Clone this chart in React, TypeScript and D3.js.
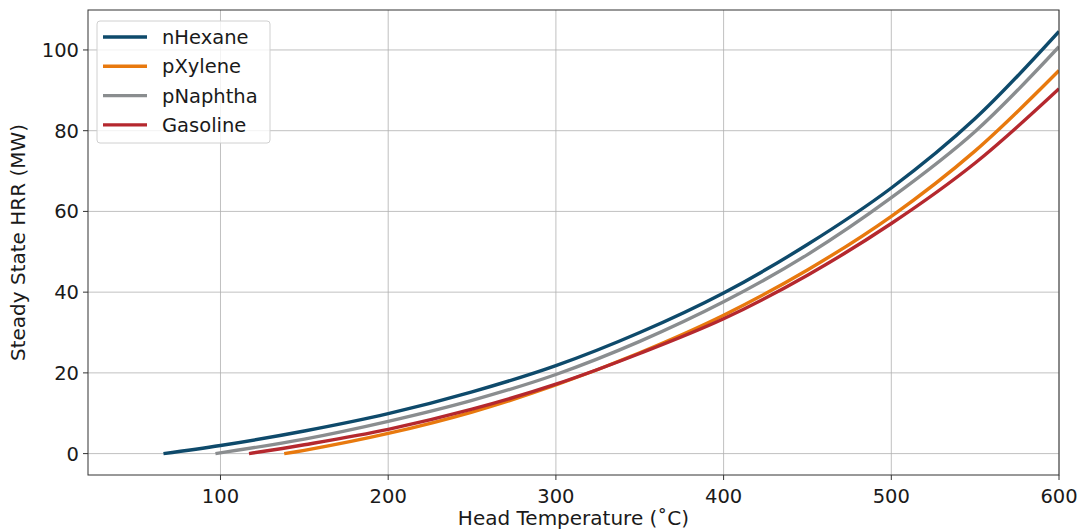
import React from "react";
import * as d3 from "d3";

const width = 1081;
const height = 531;
const margin = { top: 10, right: 22, bottom: 56, left: 88 };

// temperatures (degC) and steady state HRR (MW)
const nHexaneT = [66, 100, 150, 200, 250, 300, 350, 400, 450, 500, 550, 600];
const nHexaneQ = [0, 2.0, 5.6, 9.9, 15.3, 21.8, 30.0, 39.8, 51.8, 65.8, 83.0, 104.6];

const pXyleneT = [138, 150, 200, 250, 300, 350, 400, 450, 500, 550, 600];
const pXyleneQ = [0, 0.8, 5.0, 10.3, 17.0, 25.0, 34.3, 45.5, 58.8, 75.0, 94.9];

const pNaphthaT = [97, 150, 200, 250, 300, 350, 400, 450, 500, 550, 600];
const pNaphthaQ = [0, 3.6, 8.0, 13.2, 19.6, 27.8, 37.6, 49.3, 63.4, 79.8, 100.8];

const gasolineT = [117, 150, 200, 250, 300, 350, 400, 450, 500, 550, 600];
const gasolineQ = [0, 2.2, 6.0, 11.0, 17.2, 24.8, 33.4, 44.2, 57.0, 72.0, 90.4];

const seriesNames = ["nHexane", "pXylene", "pNaphtha", "Gasoline"];
const seriesColors = ["#0e4a6b", "#e8790e", "#8a8d8f", "#b5282e"];
const seriesT = [nHexaneT, pXyleneT, pNaphthaT, gasolineT];
const seriesQ = [nHexaneQ, pXyleneQ, pNaphthaQ, gasolineQ];

const xTicks = [100, 200, 300, 400, 500, 600];
const yTicks = [0, 20, 40, 60, 80, 100];

const font = "DejaVu Sans, sans-serif";
const textColor = "#1a1a1a";

export default function App() {
  const xScale = d3
    .scaleLinear()
    .domain([21, 600])
    .range([margin.left, width - margin.right]);
  const yScale = d3
    .scaleLinear()
    .domain([-5.3, 109.9])
    .range([height - margin.bottom, margin.top]);

  const line = d3
    .line<[number, number]>()
    .x((d) => xScale(d[0]))
    .y((d) => yScale(d[1]))
    .curve(d3.curveCatmullRom);

  const x0 = margin.left;
  const x1 = width - margin.right;
  const y0 = height - margin.bottom;
  const y1 = margin.top;

  return (
    <svg
      width={width}
      height={height}
      style={{ position: "absolute", left: 0, top: 0, background: "#fff" }}
    >
      <defs>
        <clipPath id="plot">
          <rect x={x0} y={y1} width={x1 - x0} height={y0 - y1} />
        </clipPath>
      </defs>
      {/* grid */}
      {xTicks.map((t) => (
        <line
          key={"gx" + t}
          x1={xScale(t)}
          x2={xScale(t)}
          y1={y1}
          y2={y0}
          stroke="#b0b0b0"
          strokeWidth={0.8}
        />
      ))}
      {yTicks.map((t) => (
        <line
          key={"gy" + t}
          x1={x0}
          x2={x1}
          y1={yScale(t)}
          y2={yScale(t)}
          stroke="#b0b0b0"
          strokeWidth={0.8}
        />
      ))}
      {/* curves */}
      <g clipPath="url(#plot)">
        {seriesNames.map((name, i) => {
          const pts = seriesT[i].map((t, j) => [t, seriesQ[i][j]] as [number, number]);
          return (
            <path
              key={name}
              d={line(pts) || ""}
              fill="none"
              stroke={seriesColors[i]}
              strokeWidth={3.4}
            />
          );
        })}
      </g>
      {/* spines */}
      <rect
        x={x0}
        y={y1}
        width={x1 - x0}
        height={y0 - y1}
        fill="none"
        stroke="#333"
        strokeWidth={1}
      />
      {/* x ticks */}
      {xTicks.map((t) => (
        <g key={"tx" + t}>
          <line x1={xScale(t)} x2={xScale(t)} y1={y0} y2={y0 + 5} stroke="#333" />
          <text
            x={xScale(t)}
            y={y0 + 28}
            textAnchor="middle"
            fontFamily={font}
            fontSize={19.5}
            fill={textColor}
          >
            {t}
          </text>
        </g>
      ))}
      {/* y ticks */}
      {yTicks.map((t) => (
        <g key={"ty" + t}>
          <line x1={x0 - 5} x2={x0} y1={yScale(t)} y2={yScale(t)} stroke="#333" />
          <text
            x={x0 - 9}
            y={yScale(t)}
            dy="0.36em"
            textAnchor="end"
            fontFamily={font}
            fontSize={19.5}
            fill={textColor}
          >
            {t}
          </text>
        </g>
      ))}
      {/* axis labels */}
      <text
        x={(x0 + x1) / 2}
        y={height - 6}
        textAnchor="middle"
        fontFamily={font}
        fontSize={20}
        fill={textColor}
      >
        Head Temperature (˚C)
      </text>
      <text
        transform={`translate(25, ${(y0 + y1) / 2}) rotate(-90)`}
        textAnchor="middle"
        fontFamily={font}
        fontSize={20}
        fill={textColor}
      >
        Steady State HRR (MW)
      </text>
      {/* legend */}
      <g>
        <rect
          x={97}
          y={21}
          width={173}
          height={122}
          rx={3}
          fill="#fff"
          fillOpacity={0.8}
          stroke="#d0d0d0"
        />
        {seriesNames.map((name, i) => (
          <g key={"lg" + name}>
            <line
              x1={103}
              x2={147}
              y1={37 + i * 29.3}
              y2={37 + i * 29.3}
              stroke={seriesColors[i]}
              strokeWidth={3.4}
            />
            <text
              x={162}
              y={37 + i * 29.3}
              dy="0.36em"
              fontFamily={font}
              fontSize={19.5}
              fill={textColor}
            >
              {name}
            </text>
          </g>
        ))}
      </g>
    </svg>
  );
}
